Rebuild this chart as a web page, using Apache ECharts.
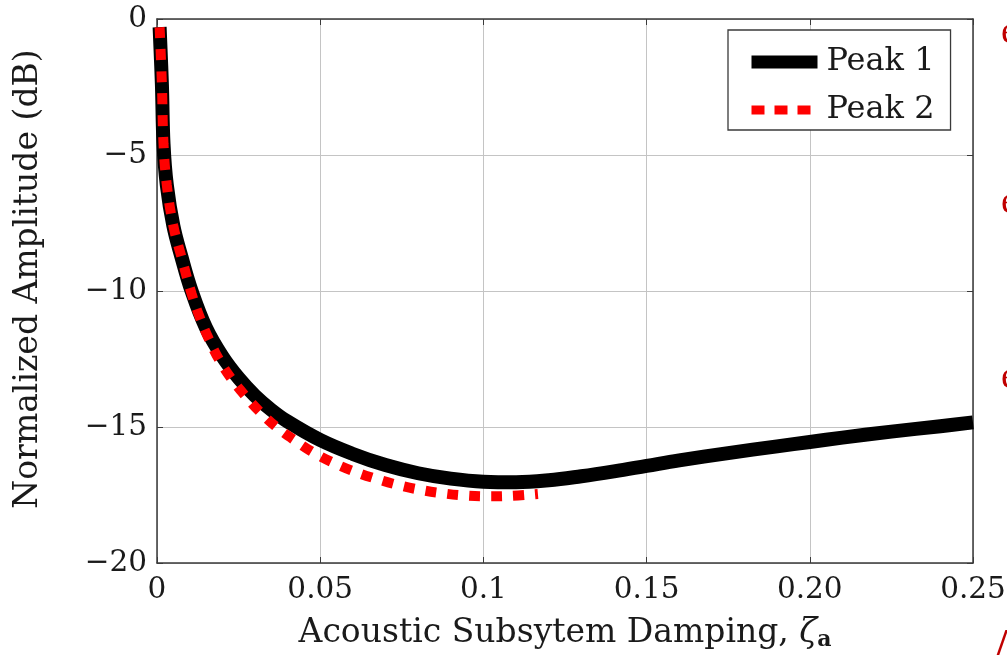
<!DOCTYPE html>
<html>
<head>
<meta charset="utf-8">
<script src="https://cdn.jsdelivr.net/npm/echarts@6/dist/echarts.min.js"></script>
<style>
html,body{margin:0;padding:0;background:#fff;}
#c{width:1007px;height:663px;}
</style>
</head>
<body>
<div id="c"></div>
<script>
// ---- data ----
const xTickLabels = ['0', '0.05', '0.1', '0.15', '0.20', '0.25'];
const yTickLabels = ['\u221220', '\u221215', '\u221210', '\u22125', '0'];
const seriesNames = ['Peak 1', 'Peak 2'];
const xTitle = 'Acoustic Subsytem Damping, ';
const yTitle = 'Normalized Amplitude (dB)';

// Peak 1 : [damping, amplitude dB]
const peak1 = [
  [0.0008, -0.3], [0.0015, -2.4], [0.002, -4.6], [0.003, -6.1], [0.005, -7.6],
  [0.0075, -8.75], [0.0106, -10.0], [0.015, -11.35], [0.02, -12.4], [0.025, -13.2],
  [0.03, -13.85], [0.035, -14.37], [0.04, -14.8], [0.05, -15.48], [0.06, -15.99],
  [0.07, -16.4], [0.08, -16.7], [0.09, -16.9], [0.1, -17.01], [0.11, -17.03],
  [0.12, -16.96], [0.13, -16.81], [0.14, -16.63], [0.15, -16.43], [0.16, -16.23],
  [0.175, -15.96], [0.19, -15.71], [0.2, -15.55], [0.21, -15.39], [0.225, -15.17],
  [0.24, -14.97], [0.25, -14.83]
];
// Peak 2
const peak2 = [
  [0.0008, -0.3], [0.0015, -2.4], [0.002, -4.6], [0.003, -6.1], [0.005, -7.6],
  [0.0076, -8.8], [0.0106, -10.1], [0.0132, -11.0], [0.016, -11.8], [0.0191, -12.54],
  [0.0227, -13.21], [0.0273, -13.89], [0.0316, -14.45], [0.0369, -15.03], [0.0428, -15.54],
  [0.0484, -15.97], [0.0545, -16.34], [0.0612, -16.67], [0.0678, -16.93], [0.0744, -17.15],
  [0.0811, -17.32], [0.0877, -17.44], [0.0945, -17.52], [0.1015, -17.55], [0.1087, -17.53],
  [0.1167, -17.46]
];

const FONT = "'DejaVu Serif', serif";
const TXT = '#1a1a1a';
const AXC = '#3a3a3a';

const chart = echarts.init(document.getElementById('c'), null, {renderer: 'canvas'});

const baseX = {
  type: 'value', min: 0, max: 0.25, interval: 0.05,
  axisLine: {show: true, onZero: false, lineStyle: {color: AXC, width: 1.5}},
  axisTick: {show: true, inside: true, length: 6, lineStyle: {color: AXC, width: 1}},
  splitLine: {show: false}
};
const baseY = {
  type: 'value', min: -20, max: 0, interval: 5,
  axisLine: {show: true, onZero: false, lineStyle: {color: AXC, width: 1.5}},
  axisTick: {show: true, inside: true, length: 6, lineStyle: {color: AXC, width: 1}},
  splitLine: {show: false}
};

chart.setOption({
  backgroundColor: '#ffffff',
  animation: false,
  grid: {left: 157, right: 34, top: 19, bottom: 100, containLabel: false, outerBoundsMode: 'none'},
  xAxis: [
    Object.assign({}, baseX, {
      position: 'bottom',
      splitLine: {show: true, lineStyle: {color: '#c4c4c4', width: 1}},
      axisLabel: {
        show: true, margin: 12, color: TXT, fontFamily: FONT, fontSize: 29.5,
        formatter: v => xTickLabels[Math.round(v / 0.05)]
      },
      name: '{t|' + xTitle + '}{z|\u03b6}{s|a}',
      nameLocation: 'middle', nameGap: 52,
      nameTextStyle: {
        color: TXT, fontFamily: FONT, fontSize: 33,
        rich: {
          t: {fontFamily: FONT, fontSize: 33, color: TXT},
          z: {fontFamily: FONT, fontSize: 33, color: TXT, fontStyle: 'italic'},
          s: {fontFamily: FONT, fontSize: 22, color: TXT, fontWeight: 'bold', padding: [14, 0, 0, 0], verticalAlign: 'bottom'}
        }
      }
    }),
    Object.assign({}, baseX, {position: 'top', axisLabel: {show: false}})
  ],
  yAxis: [
    Object.assign({}, baseY, {
      position: 'left',
      splitLine: {show: true, lineStyle: {color: '#c4c4c4', width: 1}},
      axisLabel: {
        show: true, margin: 10, color: TXT, fontFamily: FONT, fontSize: 29.5,
        formatter: v => yTickLabels[Math.round((v + 20) / 5)]
      }
    }),
    Object.assign({}, baseY, {position: 'right', axisLabel: {show: false}})
  ],
  legend: {
    left: 728, top: 30, orient: 'vertical',
    data: [
      {name: seriesNames[0], lineStyle: {width: 13, type: 'solid', color: '#000'},
       itemStyle: {opacity: 0, color: 'rgba(0,0,0,0)', borderWidth: 0}},
      {name: seriesNames[1], lineStyle: {width: 9, type: [13, 10], color: '#ff0000'},
       itemStyle: {opacity: 0, color: 'rgba(0,0,0,0)', borderWidth: 0}}
    ],
    itemWidth: 66, itemHeight: 14, itemGap: 12,
    padding: [14, 16, 2, 17],
    borderColor: AXC, borderWidth: 1.3, backgroundColor: '#fff',
    textStyle: {color: TXT, fontFamily: FONT, fontSize: 32, lineHeight: 36, padding: [0, 0, 0, 4]},
    selectedMode: false
  },
  series: [
    {
      name: seriesNames[0], type: 'line', data: peak1, symbol: 'none',
      smooth: 0.4, clip: true,
      itemStyle: {color: '#000000'},
      lineStyle: {color: '#000000', width: 14, cap: 'butt', join: 'round'},
      z: 3
    },
    {
      name: seriesNames[1], type: 'line', data: peak2, symbol: 'none',
      smooth: 0.4, clip: true,
      itemStyle: {color: '#ff0000'},
      lineStyle: {color: '#ff0000', width: 10, type: [11, 11], cap: 'butt'},
      z: 4
    }
  ],
  graphic: [
    {type: 'text', x: 28, y: 279, rotation: Math.PI / 2,
     style: {text: yTitle, fill: TXT, font: "33px " + FONT, align: 'center', verticalAlign: 'middle'}},
    {type: 'text', left: 1001, top: 14, style: {text: 'e', fill: '#c00000', font: "38px 'Liberation Serif'"}},
    {type: 'text', left: 1001, top: 184, style: {text: 'e', fill: '#c00000', font: "38px 'Liberation Serif'"}},
    {type: 'text', left: 1001, top: 359, style: {text: 'e', fill: '#c00000', font: "38px 'Liberation Serif'"}},
    {type: 'text', left: 997, top: 626, style: {text: '/', fill: '#c00000', font: "bold 38px 'Liberation Serif'"}}
  ]
});
</script>
</body>
</html>
